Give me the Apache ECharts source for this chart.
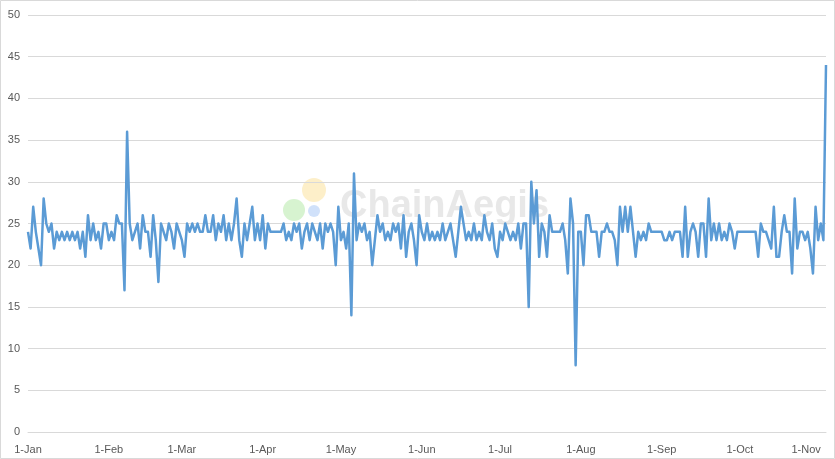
<!DOCTYPE html>
<html><head><meta charset="utf-8">
<script src="https://cdn.jsdelivr.net/npm/echarts@6/dist/echarts.min.js"></script>
<style>html,body{margin:0;padding:0;background:#fff}#c{width:835px;height:459px}</style>
</head><body><div id="c"></div>
<script>
// Daily values, 1-Jan through 3-Nov
const values = [
24,22,27,24,22,20,28,25,24,25,
22,24,23,24,23,24,23,24,23,24,
22,24,21,26,23,25,23,24,22,25,
25,23,24,23,26,25,25,17,36,25,
23,24,25,22,26,24,24,21,26,23,
18,25,24,23,25,24,22,25,24,23,
21,25,24,25,24,25,24,24,26,24,
24,26,23,25,24,26,23,25,23,25,
28,23,21,25,23,25,27,23,25,23,
26,22,25,24,24,24,24,24,25,23,
24,23,25,24,25,22,24,25,23,25,
24,23,25,22,25,24,25,24,20,27,
23,24,22,25,14,31,23,25,24,25,
23,24,20,23,26,24,25,23,24,23,
25,24,25,22,26,21,24,25,23,20,
26,24,23,25,23,24,23,24,23,25,
23,24,25,23,21,24,27,25,23,24,
23,25,23,24,23,26,24,23,25,22,
21,24,23,25,24,23,24,23,25,22,
25,25,15,30,25,29,21,25,24,21,
26,24,24,24,24,25,23,19,28,25,
8,24,24,20,26,26,24,24,24,21,
24,24,25,24,24,23,20,27,24,27,
24,27,24,21,24,23,24,23,25,24,
24,24,24,24,23,23,24,23,24,24,
24,21,27,21,24,25,24,21,25,25,
21,28,23,25,23,25,23,24,23,25,
24,22,24,24,24,24,24,24,24,24,
21,25,24,24,23,22,27,21,21,24,
26,24,24,19,28,22,24,24,23,24,
22,19,27,23,25,23,44
];
const monthNames = ['Jan','Feb','Mar','Apr','May','Jun','Jul','Aug','Sep','Oct','Nov','Dec'];
const startDate = [2023, 0, 1];
const yTicks = {min: 0, max: 50, interval: 5};

// categories: one "d-Mon" label per day
const categories = values.map((v, i) => {
  const d = new Date(Date.UTC(startDate[0], startDate[1], startDate[2] + i));
  return d.getUTCDate() + '-' + monthNames[d.getUTCMonth()];
});

const chart = echarts.init(document.getElementById('c'), null, {renderer: 'canvas'});
const font = 'Liberation Sans, Arial, sans-serif';
chart.setOption({
  animation: false,
  backgroundColor: '#fff',
  grid: {left: 28, right: 9, top: 15, bottom: 27, containLabel: false},
  xAxis: {
    type: 'category',
    data: categories,
    boundaryGap: false,
    axisLine: {show: true, lineStyle: {color: '#D9D9D9', width: 1}},
    axisTick: {show: false},
    splitLine: {show: false},
    axisLabel: {
      interval: (idx, val) => val.startsWith('1-'),
      color: '#595959', fontSize: 11, fontFamily: font, margin: 12,
      alignMaxLabel: 'right'
    }
  },
  yAxis: {
    type: 'value',
    min: yTicks.min, max: yTicks.max, interval: yTicks.interval,
    axisLine: {show: false},
    axisTick: {show: false},
    splitLine: {lineStyle: {color: '#D9D9D9', width: 1}},
    axisLabel: {color: '#595959', fontSize: 11, fontFamily: font, margin: 8}
  },
  graphic: [
    {type: 'rect', z: -10, silent: true, shape: {x: 0.5, y: 0.5, width: 834, height: 458},
     style: {fill: 'none', stroke: '#D9D9D9', lineWidth: 1}},
    {type: 'circle', z: -5, silent: true, shape: {cx: 294, cy: 210, r: 11}, style: {fill: 'rgba(140,220,120,0.35)'}},
    {type: 'circle', z: -5, silent: true, shape: {cx: 314, cy: 190, r: 12}, style: {fill: 'rgba(250,210,100,0.35)'}},
    {type: 'circle', z: -5, silent: true, shape: {cx: 314, cy: 211, r: 6}, style: {fill: 'rgba(120,170,240,0.35)'}},
    {type: 'text', z: -5, silent: true, left: 340, top: 188,
     style: {text: 'ChainAegis', font: 'bold 38px ' + font, fill: 'rgba(190,190,190,0.35)'}}
  ],
  series: [{
    type: 'line',
    data: values,
    showSymbol: false,
    symbol: 'none',
    lineStyle: {color: '#5B9BD5', width: 2.5, join: 'round'},
    z: 5
  }]
});
</script></body></html>
